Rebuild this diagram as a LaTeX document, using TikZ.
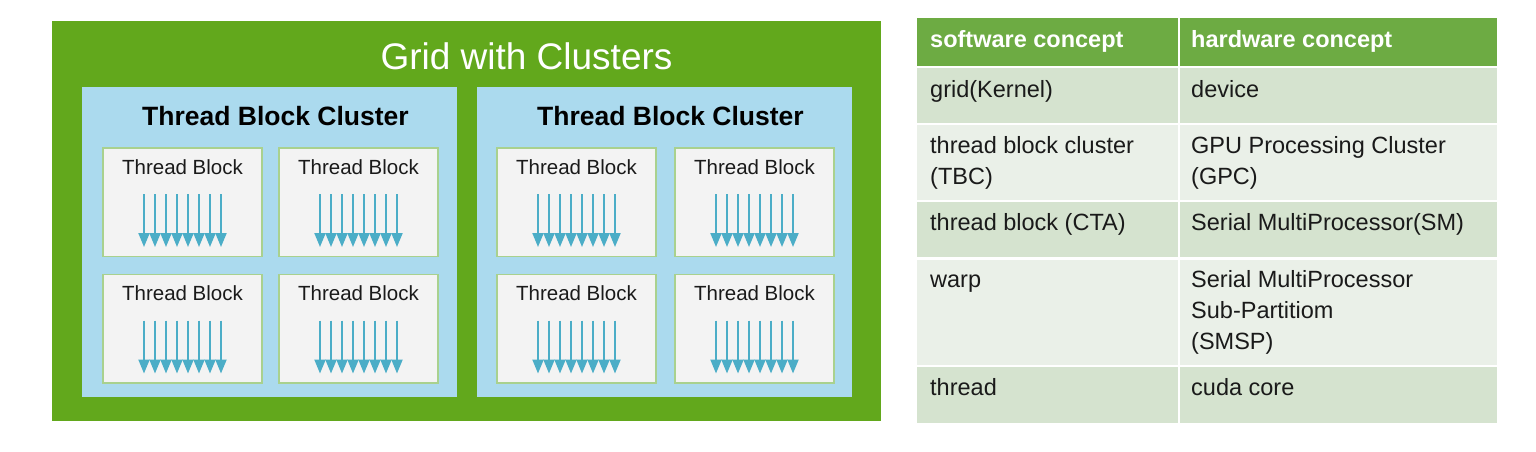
\documentclass[tikz,border=0pt]{standalone}
\usepackage{fontspec}
\setmainfont{Liberation Sans}
\usetikzlibrary{arrows.meta}
\definecolor{gridgreen}{HTML}{62A81C}
\definecolor{clusterblue}{HTML}{ABDAEE}
\definecolor{tbfill}{HTML}{F3F3F3}
\definecolor{tbborder}{HTML}{A9D18E}
\definecolor{thread}{HTML}{4BADC7}
\definecolor{thead}{HTML}{6DAB43}
\definecolor{rowdark}{HTML}{D5E3CF}
\definecolor{rowlight}{HTML}{EAF0E8}
\definecolor{ink}{HTML}{1A1A1A}
\newcommand{\celllines}[1]{\begin{tabular}[t]{@{}l@{}}#1\end{tabular}}
\begin{document}
\begin{tikzpicture}[x=1pt,y=-1pt,
  gridbox/.style={fill=gridgreen,draw=none,inner sep=0pt,minimum width=829pt,minimum height=400pt},
  clusterbox/.style={fill=clusterblue,draw=none,inner sep=0pt,minimum width=375pt,minimum height=310pt},
  tbbox/.style={fill=tbfill,draw=tbborder,line width=1.5pt,inner sep=0pt,minimum width=159pt,minimum height=108.5pt},
  gridtitle/.style={text=white,inner sep=0pt,anchor=base,font=\fontsize{37}{44}\selectfont},
  clustertitle/.style={text=black,inner sep=0pt,anchor=base,font=\bfseries\fontsize{26.5}{32}\selectfont},
  tblabel/.style={text=ink,inner sep=0pt,anchor=base,font=\fontsize{20.5}{25}\selectfont},
  threadarrow/.style={draw=thread,line width=2pt,-{Triangle[width=11pt,length=14pt]}},
  headcell/.style={fill=thead,draw=none,inner sep=0pt,anchor=north west},
  darkcell/.style={fill=rowdark,draw=none,inner sep=0pt,anchor=north west},
  lightcell/.style={fill=rowlight,draw=none,inner sep=0pt,anchor=north west},
  headtext/.style={text=white,inner sep=0pt,anchor=base west,font=\bfseries\fontsize{23.5}{31}\selectfont},
  celltext/.style={text=ink,inner sep=0pt,anchor=base west,font=\fontsize{23.5}{31}\selectfont}
]
\useasboundingbox (0,0) rectangle (1536,451);
\fill[white] (0,0) rectangle (1536,451);

% ---------------- left: grid with clusters ----------------
\node[gridbox] (grid) at (466.5,221) {};
\node[gridtitle] (gridtitle) at (526.5,69) {Grid with Clusters};

\node[clusterbox] (clusterL) at (269.5,242) {};
\node[clusterbox] (clusterR) at (664.5,242) {};
\node[clustertitle] (ctitleL) at (275.5,125) {Thread Block Cluster};
\node[clustertitle] (ctitleR) at (670.5,125) {Thread Block Cluster};

\foreach \cx/\cy/\nm in {182.5/202/a, 358.5/202/b, 576.5/202/c, 754.5/202/d,
                         182.5/328.5/e, 358.5/328.5/f, 576.5/328.5/g, 754.5/328.5/h}{
  \node[tbbox] (tb\nm) at (\cx,\cy) {};
  \node[tblabel] (tbl\nm) at (\cx,\cy-28) {Thread Block};
  \foreach \k in {0,...,7}{
    \draw[threadarrow] (\cx-38.5+11*\k,\cy-8) -- (\cx-38.5+11*\k,\cy+45);
  }
}

% ---------------- right: table ----------------
% header
\node[headcell,minimum width=260.5pt,minimum height=47.5pt] (h1) at (917,18) {};
\node[headcell,minimum width=317pt,minimum height=47.5pt] (h2) at (1180,18) {};
% rows
\node[darkcell,minimum width=260.5pt,minimum height=54.5pt] (r1a) at (917,68) {};
\node[darkcell,minimum width=317pt,minimum height=54.5pt] (r1b) at (1180,68) {};
\node[lightcell,minimum width=260.5pt,minimum height=74.5pt] (r2a) at (917,125) {};
\node[lightcell,minimum width=317pt,minimum height=74.5pt] (r2b) at (1180,125) {};
\node[darkcell,minimum width=260.5pt,minimum height=55pt] (r3a) at (917,202) {};
\node[darkcell,minimum width=317pt,minimum height=55pt] (r3b) at (1180,202) {};
\node[lightcell,minimum width=260.5pt,minimum height=105pt] (r4a) at (917,259.5) {};
\node[lightcell,minimum width=317pt,minimum height=105pt] (r4b) at (1180,259.5) {};
\node[darkcell,minimum width=260.5pt,minimum height=56pt] (r5a) at (917,367) {};
\node[darkcell,minimum width=317pt,minimum height=56pt] (r5b) at (1180,367) {};

\node[headtext] (th1) at (930,47) {software concept};
\node[headtext] (th2) at (1191,47) {hardware concept};
\node[celltext] (t1a) at (930,97) {grid(Kernel)};
\node[celltext] (t1b) at (1191,97) {device};
\node[celltext] (t2a) at (930,153) {\celllines{thread block cluster\\(TBC)}};
\node[celltext] (t2b) at (1191,153) {\celllines{GPU Processing Cluster\\(GPC)}};
\node[celltext] (t3a) at (930,230) {thread block (CTA)};
\node[celltext] (t3b) at (1191,230) {Serial MultiProcessor(SM)};
\node[celltext] (t4a) at (930,287) {warp};
\node[celltext] (t4b) at (1191,287) {\celllines{Serial MultiProcessor\\Sub-Partitiom\\(SMSP)}};
\node[celltext] (t5a) at (930,395) {thread};
\node[celltext] (t5b) at (1191,395) {cuda core};
\end{tikzpicture}
\end{document}
